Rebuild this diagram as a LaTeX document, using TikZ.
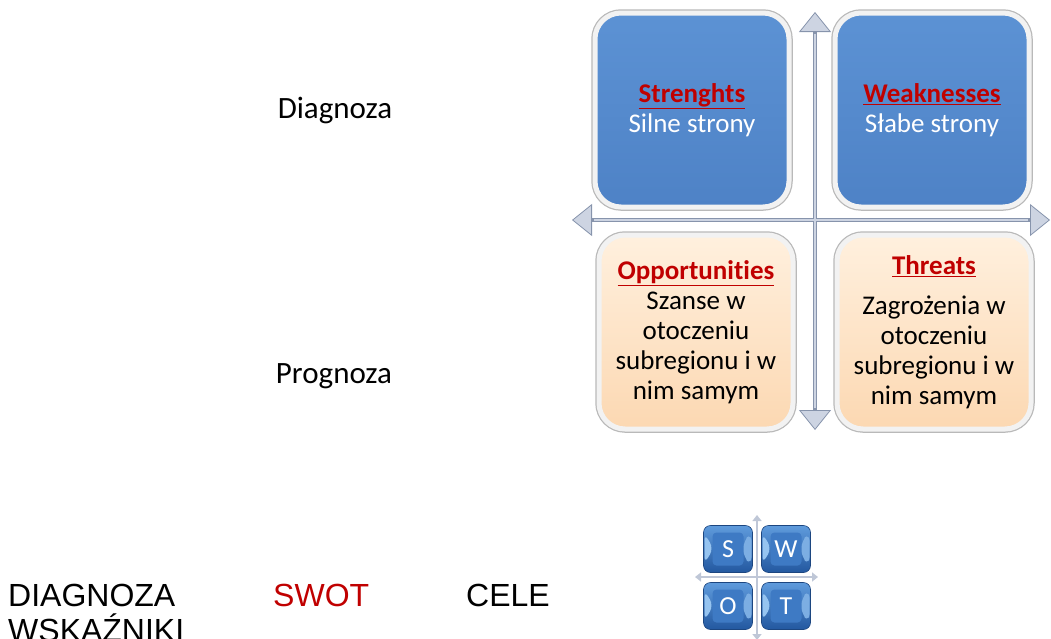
\documentclass[tikz,border=0pt]{standalone}
\usepackage{fontspec}
\setmainfont{Carlito}[Ligatures=NoCommon]
\newfontfamily\arialfont{Liberation Sans}
\usetikzlibrary{arrows.meta,positioning}
\definecolor{swotred}{RGB}{192,0,0}
\definecolor{axisgray}{RGB}{135,148,172}
\definecolor{axislight}{RGB}{205,212,226}
\definecolor{boxbluetop}{RGB}{92,146,212}
\definecolor{boxblue}{RGB}{78,130,198}
\definecolor{peachtop}{RGB}{255,240,222}
\definecolor{peach}{RGB}{252,216,178}
\definecolor{keytop}{RGB}{95,155,220}
\definecolor{keybottom}{RGB}{35,88,160}
\definecolor{keyface}{RGB}{62,122,196}
\definecolor{keylight}{RGB}{150,196,240}
\tikzset{
  quad/.style={rounded corners=26pt, minimum width=194pt, minimum height=194pt,
    line width=5pt, draw=white!90!gray, preaction={draw=gray!55, line width=7.5pt},
    align=center, inner sep=0pt, font=\fontsize{27}{30}\selectfont},
  inbox/.style={quad, top color=boxbluetop, bottom color=boxblue, text=white},
  outbox/.style={quad, top color=peachtop, bottom color=peach, text=black},
  axis/.style={line width=4pt, draw=axisgray,
    {Triangle[length=20pt,width=32pt,fill=axislight,line width=0.8pt]}-{Triangle[length=20pt,width=32pt,fill=axislight,line width=0.8pt]}},
  smallaxis/.style={line width=2pt, draw=axislight!80!axisgray,
    {Triangle[length=6pt,width=9pt]}-{Triangle[length=6pt,width=9pt]}},
  key/.style={rounded corners=7pt, minimum width=49pt, minimum height=47pt, inner sep=0pt,
    draw=keybottom!80!black, line width=0.6pt, top color=keytop, bottom color=keybottom,
    text=white, font=\fontsize{26}{26}\selectfont,
    path picture={
      \fill[keyface, rounded corners=4pt] ([shift={(9,7)}]path picture bounding box.north west)
        rectangle ([shift={(-9,-7)}]path picture bounding box.south east);
      \fill[keylight] ([shift={(1,8)}]path picture bounding box.north west) -- ++(9,15)
        -- ++(-9,15) -- cycle;
      \fill[keylight!70!keyface] ([shift={(-1,8)}]path picture bounding box.north east) -- ++(-8,7)
        -- ++(0,17) -- ++(8,7) -- cycle;
    }},
  title/.style={font=\fontsize{31}{34}\selectfont},
  bottomtext/.style={font=\arialfont\fontsize{32}{37}\selectfont, anchor=base west, inner sep=0pt}
}
\begin{document}
\begin{tikzpicture}[x=1pt,y=-1pt]
\useasboundingbox (0,0) rectangle (1051,638);
% axis ends
\coordinate (axL) at (572,220);
\coordinate (axR) at (1050,220);
\coordinate (axT) at (815,12);
\coordinate (axB) at (815,430);
\draw[axis] (axL) -- (axR);
\draw[axis] (axT) -- (axB);
\draw[axislight, line width=1.2pt, shorten <=22pt, shorten >=22pt] (axL) -- (axR);
\draw[axislight, line width=1.2pt, shorten <=22pt, shorten >=22pt] (axT) -- (axB);
% quadrants
\node[inbox] (S) at (692,110) {{\color{swotred}\underline{\textbf{Strenghts}}}\\Silne strony};
\node[inbox] (W) at (932,110) {{\color{swotred}\underline{\textbf{Weaknesses}}}\\Słabe strony};
\node[outbox] (O) at (696,332) {{\color{swotred}\underline{\textbf{Opportunities}}}\\Szanse w\\otoczeniu\\subregionu i w\\nim samym};
\node[outbox] (T) at (934,332) {{\color{swotred}\underline{\textbf{Threats}}}\\[10pt]Zagrożenia w\\otoczeniu\\subregionu i w\\nim samym};
% side labels
\node[title] (diag) at (335,110) {Diagnoza};
\node[title] (prog) at (334,376) {Prognoza};
% small swot icon
\coordinate (sL) at (695,577);
\coordinate (sR) at (818,577);
\coordinate (sT) at (757,515);
\coordinate (sB) at (757,640);
\draw[smallaxis] (sL) -- (sR);
\draw[smallaxis] (sT) -- (sB);
\node[key] (kS) at (728,549) {S};
\node[key] (kW) at (786,549) {W};
\node[key] (kO) at (728,606) {O};
\node[key] (kT) at (786,606) {T};
% bottom row
\node[bottomtext] (diagnoza) at (8,606) {DIAGNOZA};
\node[bottomtext] (wsk) at (8,641) {WSKAŹNIKI};
\node[bottomtext, text=swotred] (swot) at (273,606) {SWOT};
\node[bottomtext] (cele) at (466,606) {CELE};
\end{tikzpicture}
\end{document}
